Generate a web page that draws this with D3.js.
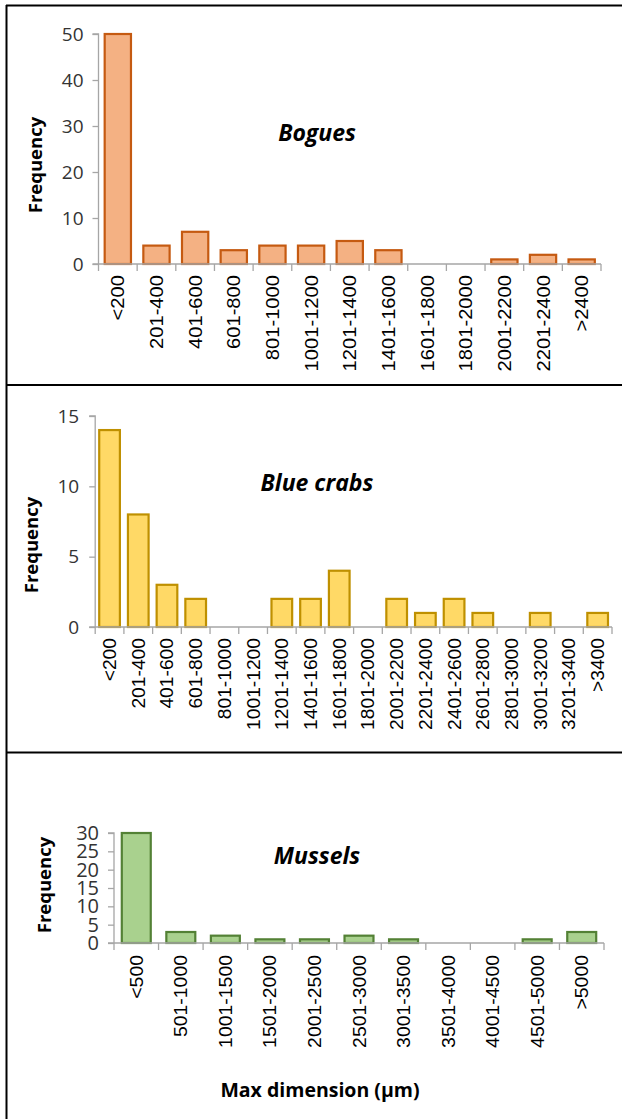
<!DOCTYPE html>
<html>
<head>
<meta charset="utf-8">
<script src="https://cdn.jsdelivr.net/npm/d3@7"></script>
<style>
  html, body { margin: 0; padding: 0; background: #fff; }
  svg { display: block; }
</style>
</head>
<body>
<svg id="fig" width="622" height="1119"></svg>
<script>
// Size-class histograms of particles found in three species
const boguesCategories = ["<200","201-400","401-600","601-800","801-1000","1001-1200","1201-1400","1401-1600","1601-1800","1801-2000","2001-2200","2201-2400",">2400"];
const boguesValues = [50, 4, 7, 3, 4, 4, 5, 3, 0, 0, 1, 2, 1];
const boguesTicks = [0, 10, 20, 30, 40, 50];

const crabCategories = ["<200","201-400","401-600","601-800","801-1000","1001-1200","1201-1400","1401-1600","1601-1800","1801-2000","2001-2200","2201-2400","2401-2600","2601-2800","2801-3000","3001-3200","3201-3400",">3400"];
const crabValues = [14, 8, 3, 2, 0, 0, 2, 2, 4, 0, 2, 1, 2, 1, 0, 1, 0, 1];
const crabTicks = [0, 5, 10, 15];

const musselCategories = ["<500","501-1000","1001-1500","1501-2000","2001-2500","2501-3000","3001-3500","3501-4000","4001-4500","4501-5000",">5000"];
const musselValues = [30, 3, 2, 1, 1, 2, 1, 0, 0, 1, 3];
const musselTicks = [0, 5, 10, 15, 20, 25, 30];

const svg = d3.select("#fig");

// panel frame: top edge, left edge and the two separators
const frame = svg.append("g").attr("stroke", "#000").attr("stroke-width", 2);
frame.append("line").attr("x1", 6).attr("x2", 622).attr("y1", 5.5).attr("y2", 5.5);
frame.append("line").attr("x1", 6.5).attr("x2", 6.5).attr("y1", 5).attr("y2", 1119);
frame.append("line").attr("x1", 6).attr("x2", 622).attr("y1", 385).attr("y2", 385);
frame.append("line").attr("x1", 6).attr("x2", 622).attr("y1", 752.5).attr("y2", 752.5);

const tickFont = "'Open Sans', sans-serif";
const catFont = "'Liberation Sans', Arial, sans-serif";

function histogram(cfg) {
  const g = svg.append("g");
  const x = d3.scaleBand()
    .domain(cfg.categories)
    .range([cfg.x0, cfg.x1])
    .paddingInner(cfg.pad)
    .paddingOuter(cfg.pad / 2);
  const y = d3.scaleLinear()
    .domain([0, cfg.yMax])
    .range([cfg.y0, cfg.yTop]);

  // y axis
  const yAxis = d3.axisLeft(y).tickValues(cfg.ticks).tickSize(6).tickPadding(cfg.tickPad);
  const ya = g.append("g").attr("transform", `translate(${cfg.x0},0)`).call(yAxis);
  ya.select(".domain").attr("stroke", "#a6a6a6").attr("stroke-width", 1.3)
    .attr("d", `M-6,${y(cfg.yMax)}H0V${cfg.y0}`);
  ya.selectAll(".tick line").attr("stroke", "#a6a6a6").attr("stroke-width", 1.3);
  ya.selectAll(".tick text")
    .attr("fill", "#333")
    .style("font-family", tickFont)
    .style("font-size", cfg.tickSize + "px");

  // bars
  g.append("g").selectAll("rect")
    .data(cfg.values)
    .join("rect")
    .attr("x", (d, i) => x(cfg.categories[i]))
    .attr("width", x.bandwidth())
    .attr("y", d => y(d))
    .attr("height", d => cfg.y0 - y(d))
    .attr("fill", cfg.fill)
    .attr("stroke", cfg.stroke)
    .attr("stroke-width", 2.2);

  // x axis line with ticks at the bin boundaries
  const step = x.step();
  const bounds = d3.range(cfg.categories.length + 1).map(i => cfg.x0 + i * step);
  g.append("line")
    .attr("x1", cfg.x0 - 6).attr("x2", cfg.x1)
    .attr("y1", cfg.y0).attr("y2", cfg.y0)
    .attr("stroke", "#a6a6a6").attr("stroke-width", 1.3);
  g.append("g").selectAll("line")
    .data(bounds)
    .join("line")
    .attr("x1", d => d).attr("x2", d => d)
    .attr("y1", cfg.y0).attr("y2", cfg.y0 + 7)
    .attr("stroke", "#a6a6a6").attr("stroke-width", 1.3);

  // category labels, rotated
  g.append("g").selectAll("text")
    .data(cfg.categories)
    .join("text")
    .attr("transform", d => `translate(${x(d) + x.bandwidth() / 2 + cfg.catShift},${cfg.y0 + cfg.catGap}) rotate(-90) scale(${cfg.catStretch},1)`)
    .attr("text-anchor", "end")
    .attr("fill", "#000")
    .style("font-family", catFont)
    .style("font-size", cfg.catSize + "px")
    .text(d => d);

  // y axis title
  g.append("text")
    .attr("transform", `translate(${cfg.yTitleX},${cfg.yTitleY}) rotate(-90)`)
    .attr("text-anchor", "middle")
    .style("font-family", tickFont)
    .style("font-weight", "bold")
    .style("font-size", "18.5px")
    .attr("fill", "#000")
    .text("Frequency");

  // species name
  g.append("text")
    .attr("x", cfg.titleX).attr("y", cfg.titleY)
    .attr("text-anchor", "middle")
    .style("font-family", tickFont)
    .style("font-weight", "bold")
    .style("font-style", "italic")
    .style("font-size", "23px")
    .attr("fill", "#000")
    .text(cfg.title);
}

histogram({
  categories: boguesCategories, values: boguesValues, ticks: boguesTicks, yMax: 50,
  x0: 98.5, x1: 601, y0: 264, yTop: 34, pad: 0.32,
  fill: "#f4b183", stroke: "#c55a11",
  tickSize: 19, tickPad: 9, catSize: 18, catGap: 11, catShift: 6.5, catStretch: 1.12,
  yTitleX: 42, yTitleY: 165, title: "Bogues", titleX: 317, titleY: 141
});

histogram({
  categories: crabCategories, values: crabValues, ticks: crabTicks, yMax: 15,
  x0: 95.2, x1: 612, y0: 627, yTop: 416, pad: 0.28,
  fill: "#ffd966", stroke: "#bf9000",
  tickSize: 19, tickPad: 10, catSize: 17.5, catGap: 11, catShift: 6.5, catStretch: 1.1,
  yTitleX: 38, yTitleY: 545, title: "Blue crabs", titleX: 317, titleY: 491
});

histogram({
  categories: musselCategories, values: musselValues, ticks: musselTicks, yMax: 30,
  x0: 114, x1: 604, y0: 943, yTop: 833, pad: 0.35,
  fill: "#a9d18e", stroke: "#538135",
  tickSize: 20, tickPad: 9, catSize: 18, catGap: 12, catShift: 6.5, catStretch: 1.08,
  yTitleX: 51, yTitleY: 885, title: "Mussels", titleX: 317, titleY: 864
});

// shared x axis title
svg.append("text")
  .attr("x", 320).attr("y", 1097)
  .attr("text-anchor", "middle")
  .style("font-family", tickFont)
  .style("font-weight", "bold")
  .style("font-size", "19.5px")
  .attr("fill", "#000")
  .text("Max dimension (µm)");
</script>
</body>
</html>
